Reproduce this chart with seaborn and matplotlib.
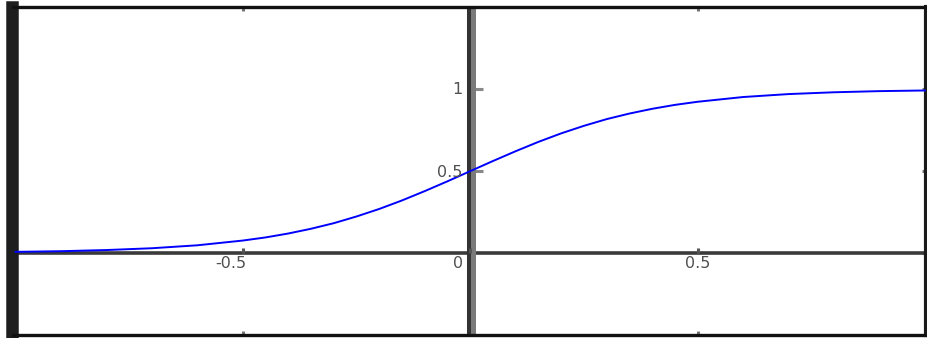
import matplotlib
matplotlib.use("Agg")
import matplotlib.pyplot as plt
import seaborn as sns
import pandas as pd

# Logistic curve samples
x_vals = [-1.0, -0.9, -0.8, -0.7, -0.6, -0.5, -0.45, -0.4, -0.35, -0.3, -0.25,
          -0.2, -0.15, -0.1, -0.05, 0.0, 0.05, 0.1, 0.15, 0.2, 0.25, 0.3, 0.35,
          0.4, 0.45, 0.5, 0.6, 0.7, 0.8, 0.9, 1.0]
y_vals = [0.007, 0.011, 0.018, 0.029, 0.047, 0.076, 0.095, 0.119, 0.148, 0.182,
          0.223, 0.269, 0.321, 0.378, 0.438, 0.5, 0.562, 0.622, 0.679, 0.731,
          0.777, 0.818, 0.852, 0.881, 0.905, 0.924, 0.953, 0.971, 0.982, 0.989,
          0.993]

x_ticks = [-0.5, 0.0, 0.5]
x_tick_labels = ["-0.5", "0", "0.5"]
y_ticks = [0.5, 1.0]
y_tick_labels = ["0.5", "1"]

df = pd.DataFrame({"x": x_vals, "y": y_vals})

sns.set_style("white")
plt.rcParams["font.family"] = ["DejaVu Sans"]

W, H = 928, 338
fig = plt.figure(figsize=(W / 100, H / 100), dpi=100)
left_px, right_px, top_px, bottom_px = 12.5, 926.0, 7.0, 334.5
ax = fig.add_axes([left_px / W, 1 - bottom_px / H,
                   (right_px - left_px) / W, (bottom_px - top_px) / H])

# axes through the origin
ax.axhline(0, color="#3a3a3a", lw=2.6, zorder=1)
ax.axvline(-0.0033, color="#333333", lw=2.9, zorder=1)
ax.axvline(0.0068, color="#7a7a7a", lw=3.6, zorder=1)

# small ticks on the origin axes
ax.plot(x_ticks, [0] * len(x_ticks), ls="none", marker=2, ms=3.5, mew=2.2,
        color="#555555", zorder=1)
ax.plot([0] * len(y_ticks), y_ticks, ls="none", marker=1, ms=9, mew=2.2,
        color="#888888", zorder=0.9)

sns.lineplot(data=df, x="x", y="y", ax=ax, color="#0000ff", lw=1.4, zorder=3)

ax.set_xlim(-1.006, 1.0018)
ax.set_ylim(-0.498, 1.503)
ax.set_xlabel("")
ax.set_ylabel("")

ax.set_xticks(x_ticks)
ax.set_yticks([0.0] + y_ticks)
ax.tick_params(direction="in", length=3, width=2.2, color="#777777",
               labelbottom=False, labelleft=False,
               top=True, right=True, bottom=True, left=True)

# frame
ax.spines["left"].set_linewidth(9.0)
ax.spines["left"].set_color("#1e1e1e")
ax.spines["top"].set_linewidth(2.4)
ax.spines["top"].set_color("#111111")
ax.spines["bottom"].set_linewidth(2.4)
ax.spines["bottom"].set_color("#111111")
ax.spines["right"].set_linewidth(3.0)
ax.spines["right"].set_color("#1a1a1a")
for s in ax.spines.values():
    s.set_visible(True)

label_kw = dict(fontsize=11.5, color="#505050", textcoords="offset pixels")
x_offsets = [(-12, -11, "center"), (-7, -11, "right"), (0, -11, "center")]
for xv, lab, (dx, dy, ha) in zip(x_ticks, x_tick_labels, x_offsets):
    ax.annotate(lab, (xv, 0), xytext=(dx, dy), ha=ha, va="center", **label_kw)
y_offsets = [-1, 0]
for yv, lab, dy in zip(y_ticks, y_tick_labels, y_offsets):
    ax.annotate(lab, (0, yv), xytext=(-8, dy), ha="right", va="center", **label_kw)

fig.savefig("out.png", dpi=100)
